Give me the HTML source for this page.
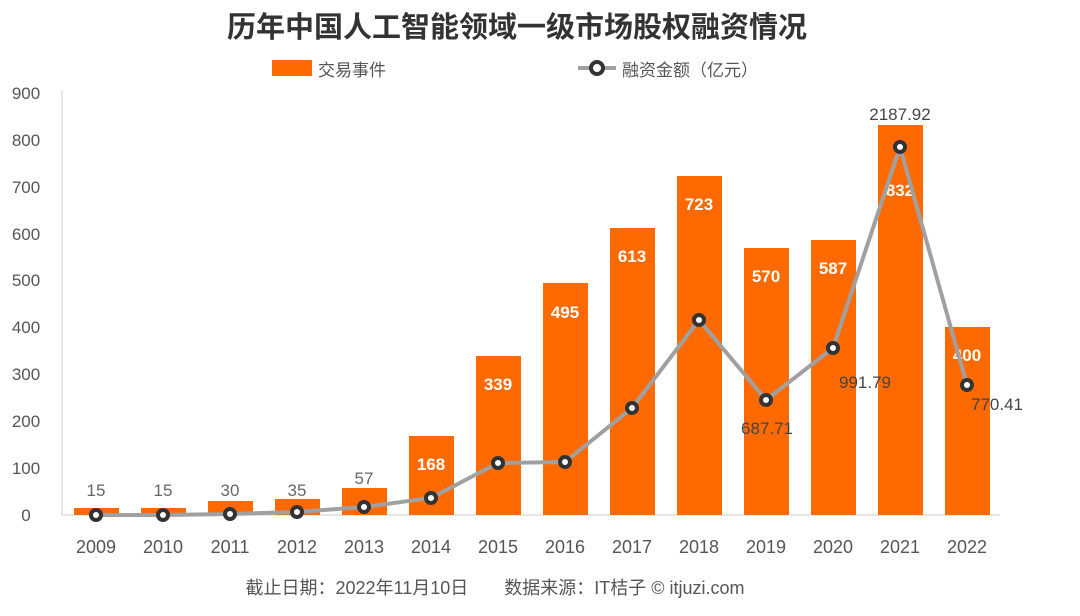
<!DOCTYPE html>
<html><head><meta charset="utf-8"><style>
body{margin:0;background:#fff;}
svg text{font-family:"Liberation Sans","Noto Sans CJK SC",sans-serif;}
</style></head><body>
<svg width="1080" height="611" xmlns="http://www.w3.org/2000/svg">
<rect width="1080" height="611" fill="#fff"/>
<text x="517" y="37" font-size="29" font-weight="bold" fill="#333" text-anchor="middle">历年中国人工智能领域一级市场股权融资情况</text>
<rect x="272" y="60" width="40" height="16" fill="#ff6a00"/>
<text x="318" y="76" font-size="17" fill="#555">交易事件</text>
<line x1="578" y1="68" x2="616" y2="68" stroke="#a0a0a0" stroke-width="4"/>
<circle cx="597" cy="68" r="6" fill="#fff" stroke="#333" stroke-width="4"/>
<text x="622" y="76" font-size="17" fill="#555">融资金额（亿元）</text>
<line x1="62" y1="90" x2="62" y2="515" stroke="#ccc" stroke-width="1"/>
<line x1="62" y1="515" x2="1000" y2="515" stroke="#ccc" stroke-width="1"/>
<g font-size="17" fill="#555" text-anchor="middle">
<text x="26" y="521">0</text><text x="26" y="474">100</text><text x="26" y="427">200</text><text x="26" y="380">300</text><text x="26" y="333">400</text><text x="26" y="286">500</text><text x="26" y="240">600</text><text x="26" y="193">700</text><text x="26" y="146">800</text><text x="26" y="99">900</text>
</g>
<g fill="#ff6a00">
<rect x="74" y="508" width="45" height="7"/>
<rect x="141" y="508" width="45" height="7"/>
<rect x="208" y="501" width="45" height="14"/>
<rect x="275" y="499" width="45" height="16"/>
<rect x="342" y="488" width="45" height="27"/>
<rect x="409" y="436" width="45" height="79"/>
<rect x="476" y="356" width="45" height="159"/>
<rect x="543" y="283" width="45" height="232"/>
<rect x="610" y="228" width="45" height="287"/>
<rect x="677" y="176" width="45" height="339"/>
<rect x="744" y="248" width="45" height="267"/>
<rect x="811" y="240" width="45" height="275"/>
<rect x="878" y="125" width="45" height="390"/>
<rect x="945" y="327" width="45" height="188"/>
</g>
<g font-size="17" fill="#666" text-anchor="middle">
<text x="96" y="496">15</text><text x="163" y="496">15</text><text x="230" y="496">30</text><text x="297" y="496">35</text><text x="364" y="484">57</text>
</g>
<g font-size="17" fill="#fff" font-weight="bold" text-anchor="middle">
<text x="431" y="470">168</text><text x="498" y="390">339</text><text x="565" y="318">495</text><text x="632" y="262">613</text><text x="699" y="210">723</text><text x="766" y="282">570</text><text x="833" y="274">587</text><text x="900" y="196">832</text><text x="967" y="361">400</text>
</g>
<polyline fill="none" stroke="#a0a0a0" stroke-width="4" points="96,515 163,515 230,514 297,512 364,507 431,498 498,463 565,462 632,408 699,320 766,400 833,348 900,147 967,385"/>
<g fill="#fff" stroke="#333" stroke-width="4">
<circle cx="96" cy="515" r="5"/><circle cx="163" cy="515" r="5"/><circle cx="230" cy="514" r="5"/><circle cx="297" cy="512" r="5"/><circle cx="364" cy="507" r="5"/><circle cx="431" cy="498" r="5"/><circle cx="498" cy="463" r="5"/><circle cx="565" cy="462" r="5"/><circle cx="632" cy="408" r="5"/><circle cx="699" cy="320" r="5"/><circle cx="766" cy="400" r="5"/><circle cx="833" cy="348" r="5"/><circle cx="900" cy="147" r="5"/><circle cx="967" cy="385" r="5"/>
</g>
<g font-size="17" fill="#444" text-anchor="middle">
<text x="767" y="434">687.71</text><text x="865" y="388">991.79</text><text x="900" y="120">2187.92</text><text x="997" y="410">770.41</text>
</g>
<g font-size="18" fill="#555" text-anchor="middle">
<text x="96" y="553">2009</text><text x="163" y="553">2010</text><text x="230" y="553">2011</text><text x="297" y="553">2012</text><text x="364" y="553">2013</text><text x="431" y="553">2014</text><text x="498" y="553">2015</text><text x="565" y="553">2016</text><text x="632" y="553">2017</text><text x="699" y="553">2018</text><text x="766" y="553">2019</text><text x="833" y="553">2020</text><text x="900" y="553">2021</text><text x="967" y="553">2022</text>
</g>
<text x="495" y="594" font-size="18" fill="#555" text-anchor="middle">截止日期：2022年11月10日　　数据来源：IT桔子 © itjuzi.com</text>
</svg>
</body></html>
